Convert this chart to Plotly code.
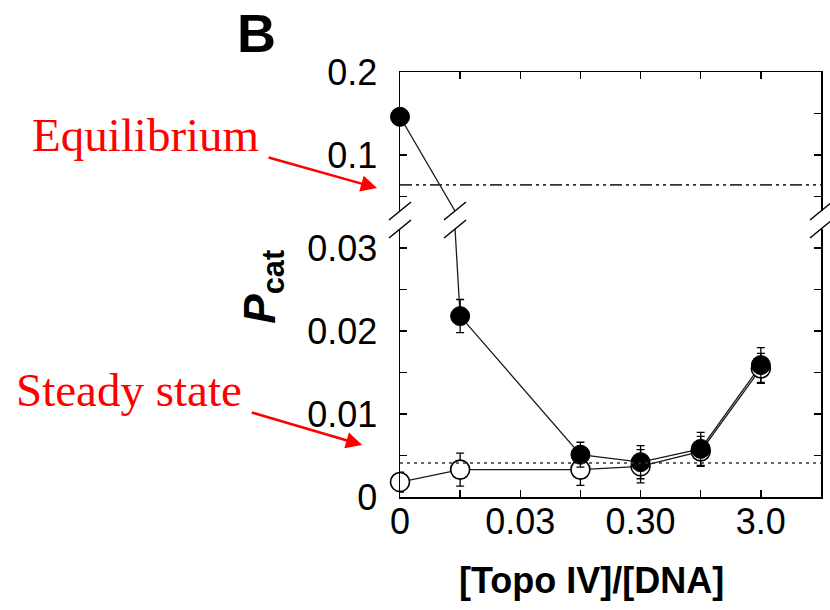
import plotly.graph_objects as go

# ---------------- data ----------------
x_categories = ["0", "0.01", "0.03", "0.1", "0.3", "1", "3"]
x_tick_labels = ["0", "", "0.03", "", "0.30", "", "3.0"]

filled_x = ["0", "0.01", "0.1", "0.3", "1", "3"]
filled_y = [0.146, 0.0218, 0.0051, 0.0042, 0.0058, 0.0159]
filled_err = [0.0, 0.0020, 0.0015, 0.0020, 0.0020, 0.0021]

open_x = ["0", "0.01", "0.1", "0.3", "1", "3"]
open_y = [0.0018, 0.0033, 0.0033, 0.0037, 0.0055, 0.0155]
open_err = [0.0012, 0.0020, 0.0019, 0.0020, 0.0018, 0.0018]

equilibrium_level = 0.064
steady_state_level = 0.0041

upper_tickvals = [0.05, 0.1, 0.15, 0.2]
upper_ticktext = ["", "0.1", "", "0.2"]
lower_tickvals = [0, 0.005, 0.01, 0.015, 0.02, 0.025, 0.03]
lower_ticktext = ["0", "", "0.01", "", "0.02", "", "0.03"]

upper_range = [0.0325, 0.2]
lower_range = [0.0, 0.0323]
x_range = [0, 7]

# ---------------- layout constants ----------------
W, H = 830, 610
ML, MR, MT, MB = 400, 7, 72, 113
upper_domain = [0.673, 1.0]
lower_domain = [0.0, 0.6306]

TICK_FONT = dict(family="Liberation Sans, Arial, sans-serif", size=36, color="black")
AX_COLOR = "black"

fig = go.Figure()


def split(vals, lo, hi):
    return [v if (lo <= v <= hi) else None for v in vals]


def split_err(vals, errs, lo, hi):
    return [e if (lo <= v <= hi) else 0 for v, e in zip(vals, errs)]


line_style = dict(color="#1a1a1a", width=1.3)
MSIZE = 19

for xa, ya, rng in (("x", "y", lower_range), ("x2", "y2", upper_range)):
    fig.add_trace(go.Scatter(x=open_x, y=open_y, mode="lines", line=line_style,
                             xaxis=xa, yaxis=ya, showlegend=False, hoverinfo="skip"))
    fig.add_trace(go.Scatter(x=filled_x, y=filled_y, mode="lines", line=line_style,
                             xaxis=xa, yaxis=ya, showlegend=False, hoverinfo="skip"))
    fig.add_trace(go.Scatter(
        x=open_x, y=split(open_y, *rng), mode="markers",
        marker=dict(symbol="circle", size=MSIZE, color="white",
                    line=dict(color="black", width=1.6)),
        error_y=dict(type="data", array=split_err(open_y, open_err, *rng),
                     color="black", thickness=1.3, width=4),
        cliponaxis=False, xaxis=xa, yaxis=ya, showlegend=False))
    fig.add_trace(go.Scatter(
        x=filled_x, y=split(filled_y, *rng), mode="markers",
        marker=dict(symbol="circle", size=MSIZE, color="black",
                    line=dict(color="black", width=1)),
        error_y=dict(type="data", array=split_err(filled_y, filled_err, *rng),
                     color="black", thickness=1.3, width=4),
        cliponaxis=False, xaxis=xa, yaxis=ya, showlegend=False))

common_x = dict(type="category", categoryorder="array", categoryarray=x_categories,
                range=x_range, showgrid=False, zeroline=False, showline=True,
                linecolor=AX_COLOR, linewidth=1.5, ticks="inside", ticklen=7,
                tickwidth=1.3, tickcolor=AX_COLOR, tickvals=x_categories,
                layer="above traces")
common_y = dict(showgrid=False, zeroline=False, showline=True, linecolor=AX_COLOR,
                linewidth=1.5, ticks="inside", ticklen=7, tickwidth=1.3,
                tickcolor=AX_COLOR, mirror="ticks", tickfont=TICK_FONT,
                ticklabelstandoff=14, layer="above traces")

fig.update_layout(
    width=W, height=H,
    margin=dict(l=ML, r=MR, t=MT, b=MB),
    paper_bgcolor="white", plot_bgcolor="white",
    xaxis=dict(**common_x, domain=[0, 1], anchor="y", side="bottom",
               ticktext=x_tick_labels, tickfont=TICK_FONT, ticklabelstandoff=-8),
    xaxis2=dict(**common_x, domain=[0, 1], anchor="y2", side="top",
                showticklabels=False),
    yaxis=dict(**common_y, domain=lower_domain, anchor="x", range=lower_range,
               tickvals=lower_tickvals, ticktext=lower_ticktext),
    yaxis2=dict(**common_y, domain=upper_domain, anchor="x2", range=upper_range,
                tickvals=upper_tickvals, ticktext=upper_ticktext),
)

fig.add_shape(type="line", xref="paper", yref="y2", x0=0, x1=1,
              y0=equilibrium_level, y1=equilibrium_level,
              line=dict(color="#333333", width=1.6, dash="12px,4px,3px,4px,3px,4px"))
fig.add_shape(type="line", xref="paper", yref="y", x0=0, x1=1,
              y0=steady_state_level, y1=steady_state_level,
              line=dict(color="#333333", width=1.6, dash="3px,4px"))

ph = H - MT - MB
pw = W - ML - MR
y_up_bottom = upper_domain[0]
y_lo_top = lower_domain[1]


def slash(xref, xanchor, yanchor):
    fig.add_shape(type="line", xref=xref, yref="paper",
                  xsizemode="pixel", ysizemode="pixel",
                  xanchor=xanchor, yanchor=yanchor,
                  x0=-11, x1=11, y0=-9, y1=9,
                  line=dict(color="black", width=1.5))


for xp in (0, 1):
    slash("paper", xp, y_up_bottom)
    slash("paper", xp, y_lo_top)

xi0 = x_categories.index(filled_x[0])
xi1 = x_categories.index(filled_x[1])
t_up = (filled_y[0] - upper_range[0]) / (filled_y[0] - filled_y[1])
t_lo = (filled_y[0] - lower_range[1]) / (filled_y[0] - filled_y[1])
slash("x", xi0 + t_up * (xi1 - xi0), y_up_bottom)
slash("x", xi0 + t_lo * (xi1 - xi0), y_lo_top)


def px(x):
    return (x - ML) / pw


def py(y):
    return (H - MB - y) / ph


ann = []
ann.append(dict(text="<b>B</b>", x=px(256), y=py(33), xref="paper", yref="paper",
                showarrow=False, xanchor="center", yanchor="middle",
                font=dict(family="Liberation Sans, Arial, sans-serif", size=54, color="black")))
ann.append(dict(text="<b><i>P</i><sub>cat</sub></b>", x=px(262), y=py(287),
                xref="paper", yref="paper", showarrow=False, textangle=-90,
                xanchor="center", yanchor="middle",
                font=dict(family="Liberation Sans, Arial, sans-serif", size=44, color="black")))
ann.append(dict(text="<b>[Topo IV]/[DNA]</b>", x=px(592), y=py(580), xref="paper",
                yref="paper", showarrow=False, xanchor="center", yanchor="middle",
                font=dict(family="Liberation Sans, Arial, sans-serif", size=36, color="black")))
red_font = dict(family="Liberation Serif, Times New Roman, serif", size=47, color="red")
ann.append(dict(text="Equilibrium", x=px(144), y=py(135), xref="paper", yref="paper",
                showarrow=False, xanchor="center", yanchor="middle", font=red_font))
ann.append(dict(text="Steady state", x=px(128), y=py(390), xref="paper", yref="paper",
                showarrow=False, xanchor="center", yanchor="middle", font=red_font))
ann.append(dict(text="", x=px(377), y=py(188), xref="paper", yref="paper",
                ax=-110, ay=-31, showarrow=True, arrowhead=2, arrowsize=1.3,
                arrowwidth=2.5, arrowcolor="red", standoff=0))
ann.append(dict(text="", x=px(362), y=py(445), xref="paper", yref="paper",
                ax=-112, ay=-33, showarrow=True, arrowhead=2, arrowsize=1.3,
                arrowwidth=2.5, arrowcolor="red", standoff=0))
fig.update_layout(annotations=ann)

fig.write_html("out.html", config={"displayModeBar": False, "staticPlot": True},
               post_script="document.body.style.margin='0';document.body.style.overflow='hidden';")
